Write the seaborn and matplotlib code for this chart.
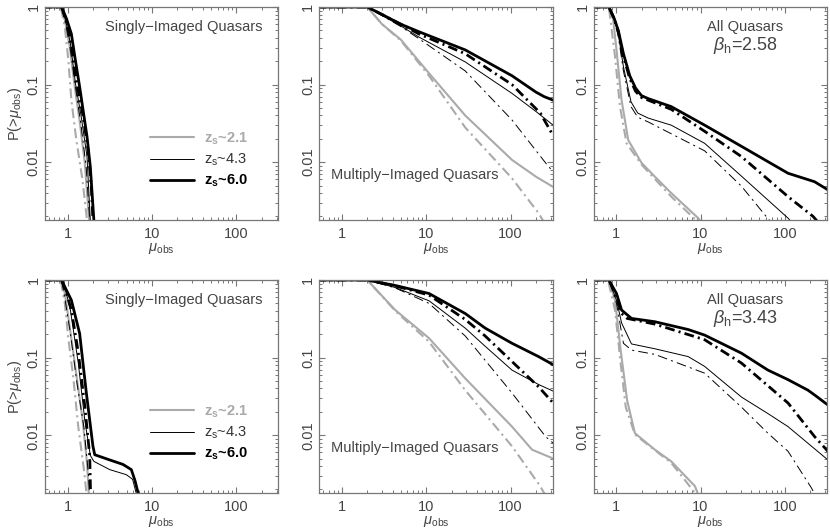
import numpy as np
import pandas as pd
import matplotlib
matplotlib.use('Agg')
import matplotlib.pyplot as plt
import seaborn as sns

# ---- data: (mu_obs, P(>mu_obs)) per source redshift ----
# top row, beta_h = 2.58
top_single_z21 = ([0.5, 0.83, 0.93, 1.06, 1.2, 1.4, 1.6, 1.8], [1, 1, 0.67, 0.31, 0.104, 0.032, 0.0098, 0.0018])
top_single_z21_dd = ([0.5, 0.83, 0.93, 1.02, 1.11, 1.27, 1.5, 1.7], [1, 1, 0.55, 0.21, 0.063, 0.0194, 0.006, 0.0018])
top_single_z43 = ([0.5, 0.85, 0.95, 1.08, 1.24, 1.45, 1.7, 1.86], [1, 1, 0.67, 0.34, 0.104, 0.039, 0.0118, 0.0018])
top_single_z43_dd = ([0.5, 0.85, 0.95, 1.08, 1.24, 1.45, 1.66, 1.83], [1, 1, 0.61, 0.28, 0.094, 0.029, 0.0088, 0.0018])
top_single_z60 = ([0.5, 0.85, 0.97, 1.11, 1.22, 1.39, 1.7, 1.86, 2.05], [1, 1, 0.71, 0.45, 0.228, 0.094, 0.0214, 0.0088, 0.0018])
top_single_z60_dd = ([0.5, 0.85, 0.97, 1.11, 1.27, 1.53, 1.75, 1.91, 2.0], [1, 1, 0.64, 0.34, 0.114, 0.039, 0.0145, 0.0049, 0.0018])

top_multi_z21 = ([0.5, 2, 3, 5, 10.8, 29, 104, 200, 320], [1, 1, 0.6, 0.38, 0.14, 0.04, 0.0107, 0.0065, 0.0048])
top_multi_z21_dd = ([0.5, 2, 3, 5, 10.8, 29, 104, 215, 300], [1, 1, 0.6, 0.37, 0.13, 0.028, 0.0062, 0.0022, 0.0012])
top_multi_z43 = ([0.5, 2, 5, 8.2, 29, 104, 200, 320], [1, 1, 0.57, 0.41, 0.196, 0.077, 0.045, 0.030])
top_multi_z43_dd = ([0.5, 2, 5, 8.2, 29, 104, 260, 320], [1, 1, 0.56, 0.39, 0.15, 0.035, 0.0098, 0.0075])
top_multi_z60 = ([0.5, 2, 3, 5, 8.2, 29, 104, 200, 250, 320], [1, 1, 0.8, 0.6, 0.48, 0.28, 0.13, 0.08, 0.07, 0.063])
top_multi_z60_dd = ([0.5, 2, 5, 8.2, 29, 104, 225, 320], [1, 1, 0.6, 0.45, 0.25, 0.1, 0.043, 0.022])

top_all_z21 = ([0.5, 0.82, 0.92, 1.01, 1.16, 1.39, 2.0, 2.88, 4.5, 9.4, 11], [1, 1, 0.7, 0.28, 0.063, 0.0193, 0.0098, 0.0065, 0.004, 0.0019, 0.0015])
top_all_z21_dd = ([0.5, 0.82, 0.97, 1.11, 1.33, 2.0, 4.5, 8.8, 10.5], [1, 1, 0.23, 0.052, 0.0175, 0.0093, 0.0036, 0.0018, 0.0014])
top_all_z43 = ([0.5, 0.82, 0.95, 1.06, 1.22, 1.5, 1.8, 2.4, 4.5, 11.2, 30.6, 109, 150], [1, 1, 0.7, 0.45, 0.17, 0.06, 0.043, 0.037, 0.030, 0.0175, 0.0066, 0.0019, 0.0013])
top_all_z43_dd = ([0.5, 0.82, 0.95, 1.06, 1.22, 1.5, 1.8, 2.4, 11.2, 30.6, 60, 90], [1, 1, 0.68, 0.42, 0.15, 0.052, 0.038, 0.033, 0.014, 0.0049, 0.002, 0.0012])
top_all_z60 = ([0.5, 0.82, 0.95, 1.06, 1.22, 1.45, 1.7, 2.0, 2.4, 4.5, 11.2, 30.6, 109, 225, 324], [1, 1, 0.71, 0.5, 0.25, 0.13, 0.09, 0.072, 0.066, 0.052, 0.030, 0.016, 0.0072, 0.0056, 0.0044])
top_all_z60_dd = ([0.5, 0.82, 0.95, 1.06, 1.22, 1.45, 1.7, 2.0, 2.4, 4.5, 11.2, 30.6, 109, 216, 324], [1, 1, 0.7, 0.48, 0.23, 0.12, 0.082, 0.068, 0.063, 0.048, 0.025, 0.0118, 0.0036, 0.002, 0.0012])

# bottom row, beta_h = 3.43
bot_single_z21 = ([0.5, 0.83, 0.93, 1.05, 1.25, 1.5, 1.7, 1.8], [1, 1, 0.67, 0.27, 0.069, 0.0164, 0.0044, 0.0015])
bot_single_z21_dd = ([0.5, 0.83, 0.93, 1.02, 1.17, 1.34, 1.58, 1.7], [1, 1, 0.49, 0.18, 0.055, 0.0128, 0.0033, 0.0015])
bot_single_z43 = ([0.5, 0.85, 0.97, 1.08, 1.34, 1.6, 1.86, 2.05, 3.16, 4.97, 5.9, 6.8], [1, 1, 0.67, 0.41, 0.085, 0.0157, 0.0055, 0.0046, 0.0036, 0.0031, 0.0027, 0.0015])
bot_single_z43_dd = ([0.5, 0.85, 0.95, 1.08, 1.3, 1.56, 1.76, 1.83], [1, 1, 0.5, 0.206, 0.045, 0.0128, 0.0033, 0.0015])
bot_single_z60 = ([0.5, 0.85, 0.97, 1.11, 1.39, 1.67, 2.0, 2.1, 3.16, 4.54, 5.7, 6.3, 7.15], [1, 1, 0.74, 0.55, 0.205, 0.035, 0.0072, 0.0056, 0.0048, 0.0042, 0.0036, 0.0026, 0.0015])
bot_single_z60_dd = ([0.5, 0.85, 0.97, 1.11, 1.34, 1.6, 1.83, 1.88], [1, 1, 0.67, 0.41, 0.116, 0.0237, 0.0055, 0.0015])

bot_multi_z21 = ([0.5, 2, 4.3, 10.8, 29, 104, 180, 320], [1, 1, 0.41, 0.178, 0.054, 0.0129, 0.0065, 0.005])
bot_multi_z21_dd = ([0.5, 2, 4.3, 10.8, 29, 104, 225, 320], [1, 1, 0.4, 0.16, 0.038, 0.0072, 0.0022, 0.0011])
bot_multi_z43 = ([0.5, 2, 4.3, 10.8, 29, 50, 104, 215, 320], [1, 1, 0.8, 0.54, 0.24, 0.14, 0.069, 0.045, 0.037])
bot_multi_z43_dd = ([0.5, 2, 4.3, 10.8, 29, 104, 260, 320], [1, 1, 0.79, 0.5, 0.19, 0.035, 0.0096, 0.0079])
bot_multi_z60 = ([0.5, 2, 4.3, 10.8, 29, 50, 104, 215, 320], [1, 1, 0.85, 0.67, 0.37, 0.24, 0.153, 0.103, 0.081])
bot_multi_z60_dd = ([0.5, 2, 4.3, 10.8, 29, 50, 104, 215, 320], [1, 1, 0.84, 0.64, 0.31, 0.19, 0.089, 0.042, 0.026])

bot_all_z21 = ([0.5, 0.82, 0.97, 1.13, 1.35, 1.67, 2.88, 4.5, 8.6, 9.6], [1, 1, 0.55, 0.126, 0.028, 0.0106, 0.0065, 0.0046, 0.0022, 0.0016])
bot_all_z21_dd = ([0.5, 0.8, 0.97, 1.13, 1.3, 1.67, 2.88, 4.5, 9.4], [1, 1, 0.41, 0.085, 0.023, 0.0102, 0.0064, 0.0044, 0.0016])
bot_all_z43 = ([0.5, 0.82, 1.01, 1.16, 1.52, 2.88, 7.15, 11.2, 30.6, 63, 109, 324], [1, 1, 0.55, 0.28, 0.15, 0.13, 0.103, 0.077, 0.031, 0.019, 0.0129, 0.0048])
bot_all_z43_dd = ([0.5, 0.82, 1.01, 1.22, 1.52, 2.88, 11.2, 30.6, 63, 109, 206, 260], [1, 1, 0.5, 0.153, 0.125, 0.11, 0.063, 0.023, 0.0106, 0.0062, 0.0021, 0.0013])
bot_all_z60 = ([0.5, 0.82, 1.01, 1.16, 1.52, 2.88, 7.15, 11.2, 30.6, 63, 109, 188, 225, 324], [1, 1, 0.67, 0.41, 0.32, 0.29, 0.23, 0.195, 0.114, 0.069, 0.052, 0.038, 0.033, 0.0245])
bot_all_z60_dd = ([0.5, 0.82, 1.01, 1.16, 1.35, 2.88, 11.2, 30.6, 109, 225, 324], [1, 1, 0.62, 0.37, 0.32, 0.27, 0.17, 0.085, 0.026, 0.0096, 0.0062])

panel_texts = ['Singly\u2212Imaged Quasars', 'Multiply\u2212Imaged Quasars', 'All Quasars']
beta_labels = ['2.58', '3.43']
legend_labels = ['z$_{s}$~2.1', 'z$_{s}$~4.3', 'z$_{s}$~6.0']

sns.set_theme(style='ticks')
plt.rcParams['font.family'] = ['Liberation Sans', 'DejaVu Sans']
plt.rcParams['mathtext.fontset'] = 'custom'
plt.rcParams['mathtext.rm'] = 'Liberation Sans'
plt.rcParams['mathtext.it'] = 'Liberation Sans:italic'
plt.rcParams['mathtext.bf'] = 'Liberation Sans:bold'
plt.rcParams['mathtext.default'] = 'regular'
plt.rcParams['lines.scale_dashes'] = False

grey = '#aaaaaa'
txt = '#444444'
dd = (0, (7, 3, 1.5, 3))
# style per series: colour, width, linestyle
styles = [('z21', grey, 1.5, '-'), ('z21_dd', grey, 1.5, dd),
          ('z43', 'black', 0.7, '-'), ('z43_dd', 'black', 0.7, dd),
          ('z60_dd', 'black', 2.0, dd), ('z60', 'black', 2.0, '-')]

panels = [[{'z21': top_single_z21, 'z21_dd': top_single_z21_dd, 'z43': top_single_z43,
            'z43_dd': top_single_z43_dd, 'z60': top_single_z60, 'z60_dd': top_single_z60_dd},
           {'z21': top_multi_z21, 'z21_dd': top_multi_z21_dd, 'z43': top_multi_z43,
            'z43_dd': top_multi_z43_dd, 'z60': top_multi_z60, 'z60_dd': top_multi_z60_dd},
           {'z21': top_all_z21, 'z21_dd': top_all_z21_dd, 'z43': top_all_z43,
            'z43_dd': top_all_z43_dd, 'z60': top_all_z60, 'z60_dd': top_all_z60_dd}],
          [{'z21': bot_single_z21, 'z21_dd': bot_single_z21_dd, 'z43': bot_single_z43,
            'z43_dd': bot_single_z43_dd, 'z60': bot_single_z60, 'z60_dd': bot_single_z60_dd},
           {'z21': bot_multi_z21, 'z21_dd': bot_multi_z21_dd, 'z43': bot_multi_z43,
            'z43_dd': bot_multi_z43_dd, 'z60': bot_multi_z60, 'z60_dd': bot_multi_z60_dd},
           {'z21': bot_all_z21, 'z21_dd': bot_all_z21_dd, 'z43': bot_all_z43,
            'z43_dd': bot_all_z43_dd, 'z60': bot_all_z60, 'z60_dd': bot_all_z60_dd}]]

fig, axes = plt.subplots(2, 3, figsize=(8.3, 5.31), dpi=100)
fig.subplots_adjust(left=0.0542, right=0.9964, bottom=0.0716, top=0.9868,
                    wspace=0.175, hspace=0.282)

for r in range(2):
    for c in range(3):
        ax = axes[r, c]
        ax.set_xscale('log')
        ax.set_yscale('log')
        handles = {}
        for key, col, lw, ls in styles:
            mu, p = panels[r][c][key]
            df = pd.DataFrame({'mu': mu, 'P': p})
            sns.lineplot(data=df, x='mu', y='P', ax=ax, color=col, lw=lw,
                         linestyle=ls, estimator=None, sort=False, legend=False)
            handles[key] = ax.lines[-1]
        ax.set_xlim(0.54, 316)
        ax.set_ylim(0.0018, 1)
        ax.set_xticks([1, 10, 100])
        ax.set_xticklabels(['1', '10', '100'])
        ax.set_yticks([0.01, 0.1, 1])
        ax.set_yticklabels(['0.01', '0.1', '1'], rotation=90, va='center')
        ax.tick_params(which='both', direction='in', top=True, right=True,
                       colors='#777777', labelcolor=txt, labelsize=10.5)
        ax.tick_params(which='major', length=4, width=0.8)
        ax.tick_params(which='minor', length=2, width=0.7)
        ax.tick_params(axis='x', which='major', pad=5)
        ax.tick_params(axis='y', which='major', pad=3)
        for s in ax.spines.values():
            s.set_color('#777777')
            s.set_linewidth(0.9)
        ax.set_xlabel(r'$\mathit{\mu}_{obs}$', fontsize=10.5, color=txt, labelpad=0)
        if c == 0:
            ax.set_ylabel(r'P(>$\mathit{\mu}_{obs}$)', fontsize=10.5, color=txt, labelpad=2)
        else:
            ax.set_ylabel('')

        if c == 0:
            ax.text(0.93, 0.906, panel_texts[0], transform=ax.transAxes, ha='right',
                    va='center', fontsize=10.5, color=txt)
            leg = ax.legend([handles['z21'], handles['z43'], handles['z60']], legend_labels,
                            loc='lower left', bbox_to_anchor=(0.45, 0.145), borderaxespad=0,
                            borderpad=0, frameon=False, handlelength=3.0,
                            handletextpad=0.7, labelspacing=0.32, fontsize=10.5)
            for t, col, w in zip(leg.get_texts(), [grey, '#333333', 'black'],
                                 ['bold', 'normal', 'bold']):
                t.set_color(col)
                t.set_fontweight(w)
        elif c == 1:
            ax.text(0.05, 0.21, panel_texts[1], transform=ax.transAxes, ha='left',
                    va='center', fontsize=10.5, color=txt)
        else:
            ax.text(0.65, 0.906, panel_texts[2], transform=ax.transAxes, ha='center',
                    va='center', fontsize=10.5, color=txt)
            ax.text(0.65, 0.82, r'$\mathit{\beta}_{h}$=' + beta_labels[r], transform=ax.transAxes,
                    ha='center', va='center', fontsize=13, color=txt)

fig.savefig('out.png', dpi=100)
